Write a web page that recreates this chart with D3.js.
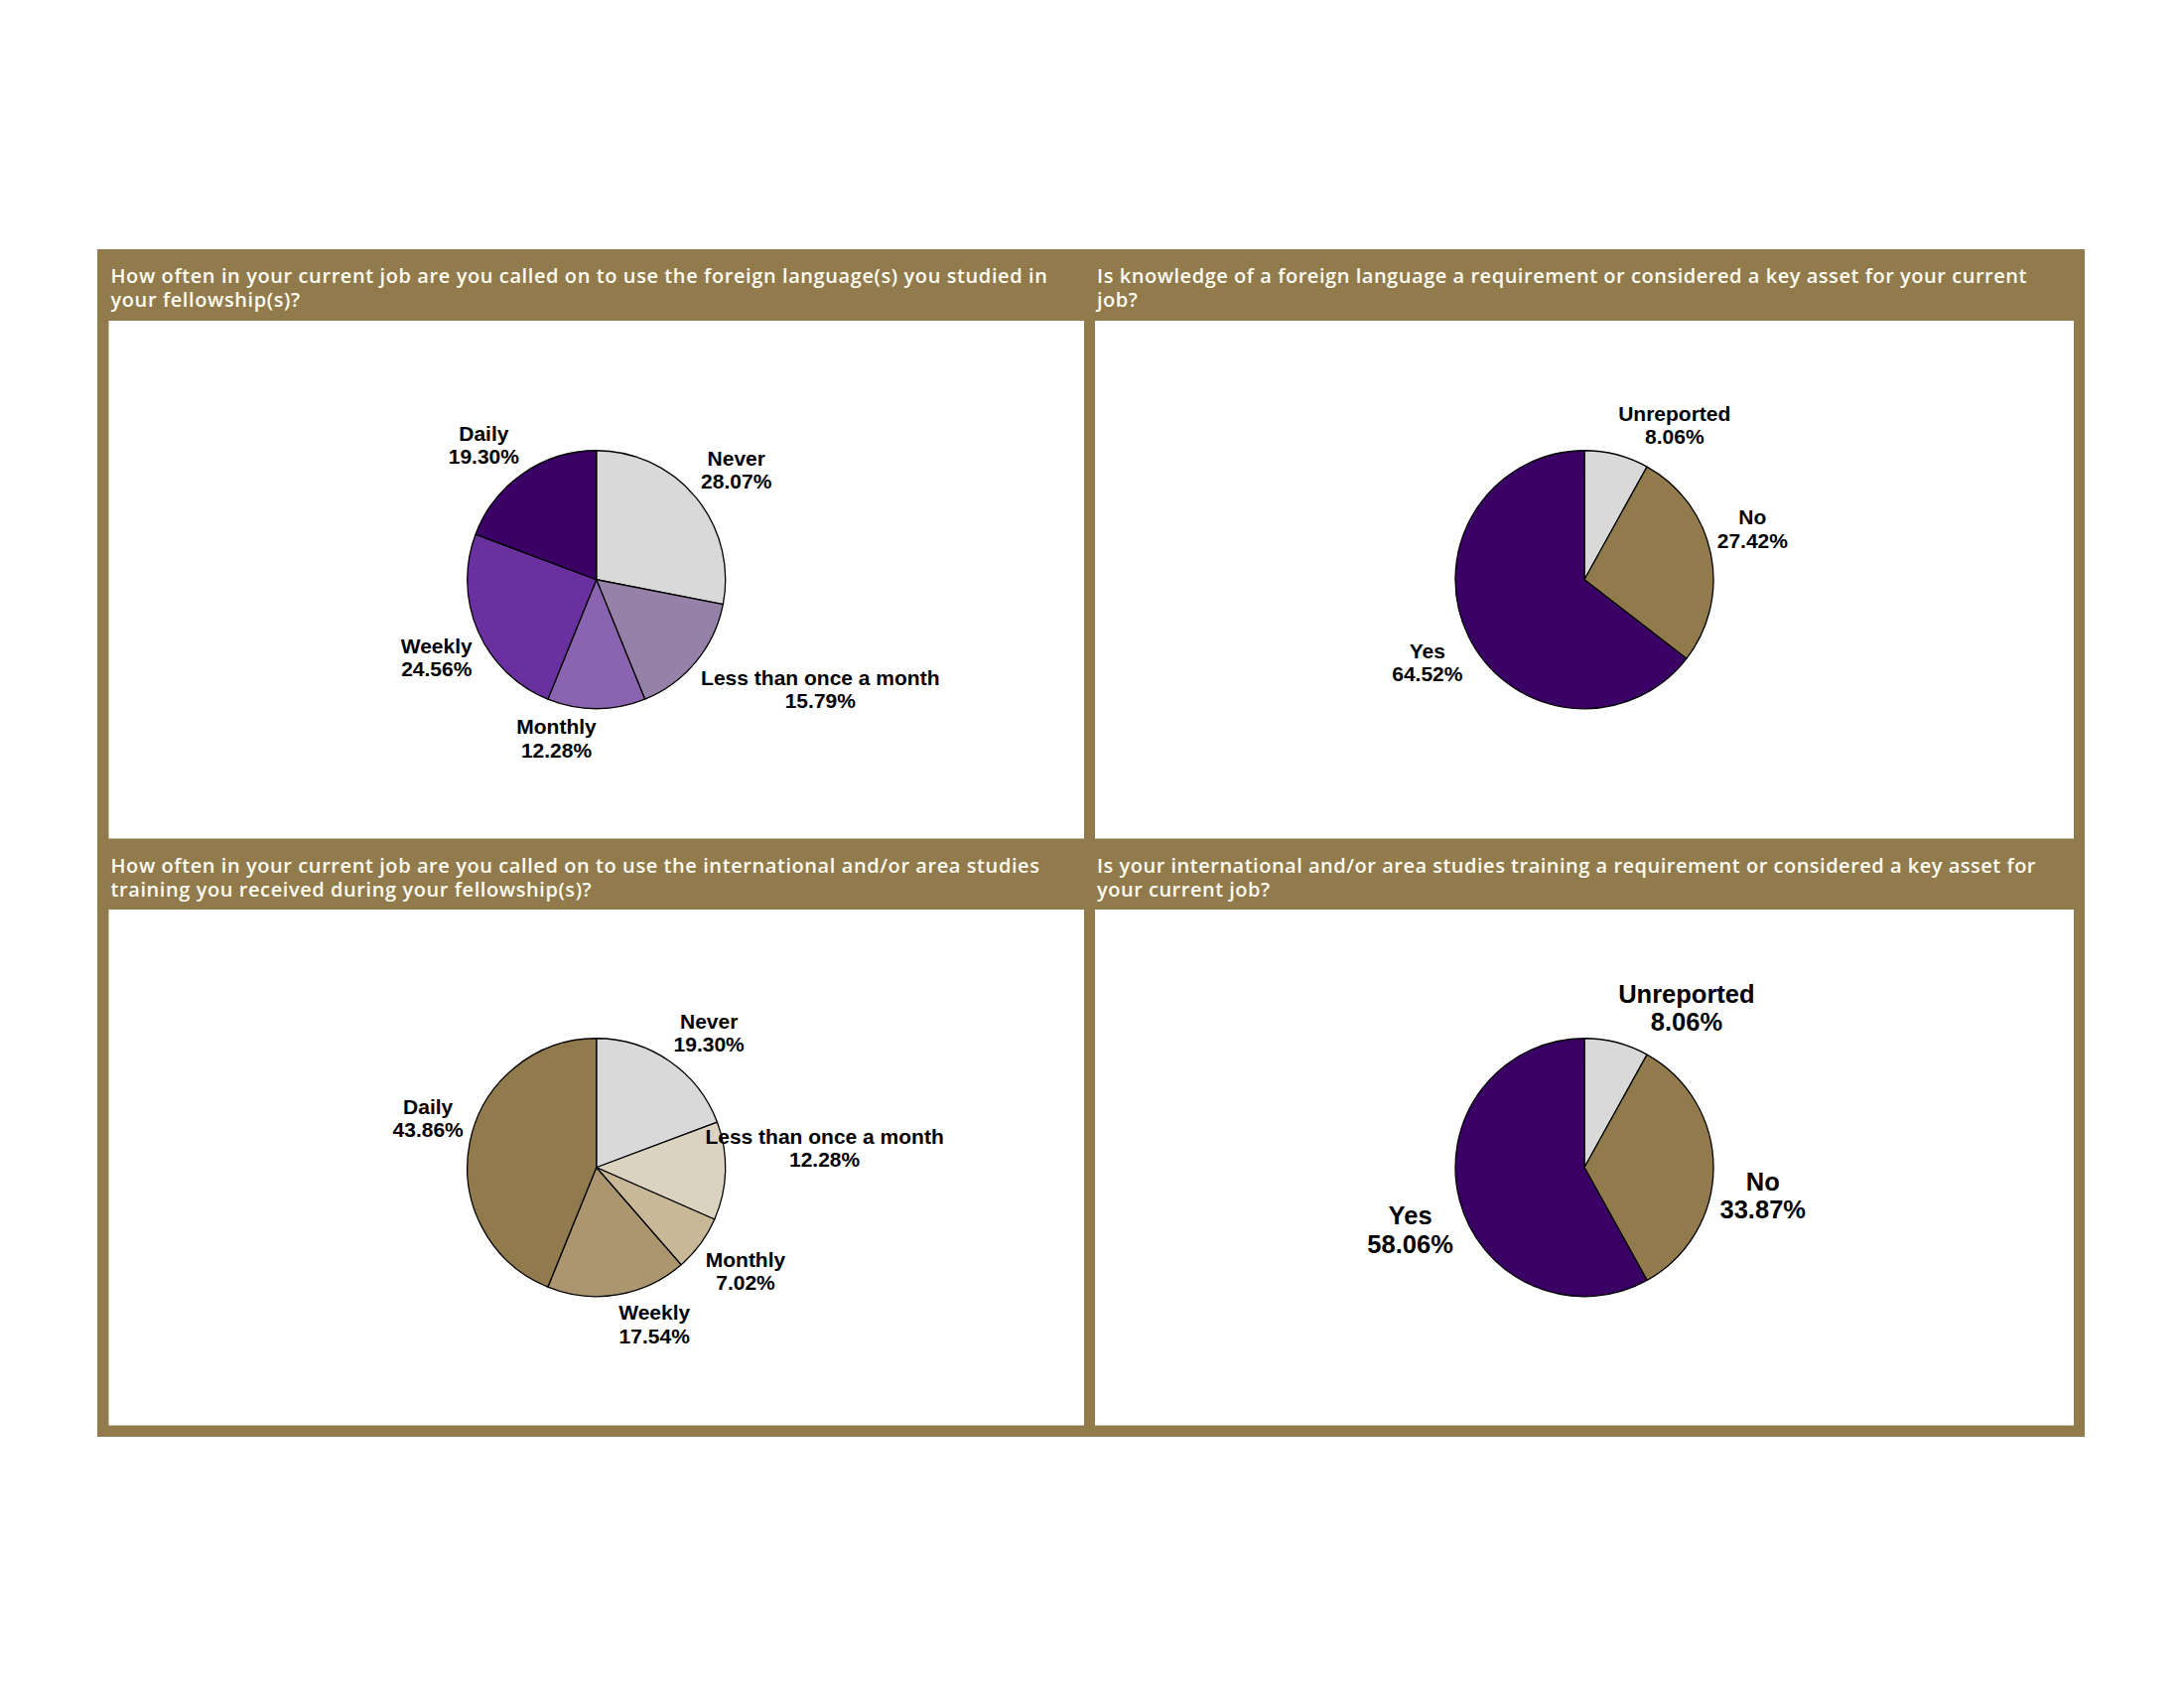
<!DOCTYPE html>
<html>
<head>
<meta charset="utf-8">
<script src="https://cdn.jsdelivr.net/npm/d3@7"></script>
<style>
  body { margin: 0; background: #fff; }
  svg { display: block; }
</style>
</head>
<body>
<div id="chart"></div>
<script>
// --------------- Data ---------------
const FREQ_LABELS = ["Never", "Less than once a month", "Monthly", "Weekly", "Daily"];
const KEY_LABELS = ["Unreported", "No", "Yes"];

const LANG_USE_VALUES = [28.07, 15.79, 12.28, 24.56, 19.30];
const LANG_KEY_VALUES = [8.06, 27.42, 64.52];
const AREA_USE_VALUES = [19.30, 12.28, 7.02, 17.54, 43.86];
const AREA_KEY_VALUES = [8.06, 33.87, 58.06];

const TITLES = [
  ["How often in your current job are you called on to use the foreign language(s) you studied in",
   "your fellowship(s)?"],
  ["Is knowledge of a foreign language a requirement or considered a key asset for your current",
   "job?"],
  ["How often in your current job are you called on to use the international and/or area studies",
   "training you received during your fellowship(s)?"],
  ["Is your international and/or area studies training a requirement or considered a key asset for",
   "your current job?"]
];

// --------------- Styles ---------------
const BROWN = "#917b4c";
const PURPLE_SHADES = ["#d9d9d9", "#9682a8", "#8a64b0", "#6b30a0", "#3a0066"];
const BROWN_SHADES = ["#d9d9d9", "#dbd2c0", "#c8b898", "#ab9670", "#917b4c"];
const KEY_COLORS = ["#d9d9d9", "#917b4c", "#3a0066"];

// --------------- Layout ---------------
const WIDTH = 2200;
const HEIGHT = 1700;
const FRAME = { left: 98, top: 251, right: 2100, bottom: 1447 };
const COLS = [{ x0: 109.5, x1: 1092 }, { x0: 1103, x1: 2089 }];
const ROWS = [
  { head: 251, y0: 323, y1: 844.5 },
  { head: 844.5, y0: 916, y1: 1435.5 }
];
const RADIUS = 130;
const LABEL_DIST = RADIUS * 1.05;
const LABEL_CLAMP = 350;
const TITLE_SIZE = 20;
const TITLE_WIDTH = [944, 937, 936, 946];

const svg = d3
  .select("#chart")
  .append("svg")
  .attr("width", WIDTH)
  .attr("height", HEIGHT);

svg.append("rect")
  .attr("x", FRAME.left)
  .attr("y", FRAME.top)
  .attr("width", FRAME.right - FRAME.left)
  .attr("height", FRAME.bottom - FRAME.top)
  .attr("fill", BROWN);

const panels = [];
ROWS.forEach((row, r) => {
  COLS.forEach((col, c) => {
    panels.push({ row, col, idx: r * 2 + c });
  });
});

panels.forEach(({ row, col, idx }) => {
  svg.append("rect")
    .attr("x", col.x0)
    .attr("y", row.y0)
    .attr("width", col.x1 - col.x0)
    .attr("height", row.y1 - row.y0)
    .attr("fill", "#fff");

  // Title in the brown header, letter spacing tuned so line one fills its width
  const title = svg.append("g").attr("class", "title");
  const lines = title.selectAll("text")
    .data(TITLES[idx])
    .join("text")
    .attr("x", col.x0 + 2)
    .attr("y", (d, i) => row.head + 34 + i * 24)
    .attr("fill", "#fffcf2")
    .attr("font-family", "'Open Sans', 'Noto Sans', sans-serif")
    .attr("font-weight", 600)
    .attr("font-size", TITLE_SIZE)
    .text((d) => d);
  const first = lines.node();
  const spacing = (TITLE_WIDTH[idx] - first.getComputedTextLength()) / TITLES[idx][0].length;
  lines.attr("letter-spacing", spacing);
});

function drawPie(cfg) {
  const { cx, cy, labels, values, colors, fontSize } = cfg;
  const data = labels.map((label, i) => ({ label, value: values[i], color: colors[i] }));
  const arcs = d3.pie().sort(null).value((d) => d.value)(data);
  const arc = d3.arc().innerRadius(0).outerRadius(RADIUS);

  const g = svg.append("g").attr("transform", `translate(${cx},${cy})`);

  g.selectAll("path")
    .data(arcs)
    .join("path")
    .attr("d", arc)
    .attr("fill", (d) => d.data.color)
    .attr("stroke", "#000")
    .attr("stroke-width", 1.3)
    .attr("stroke-linejoin", "round");

  const lh = fontSize * 1.12;
  g.selectAll("g.label")
    .data(arcs)
    .join("g")
    .attr("class", "label")
    .each(function (d) {
      const el = d3.select(this);
      const texts = el.selectAll("text")
        .data([d.data.label, d.data.value.toFixed(2) + "%"])
        .join("text")
        .attr("text-anchor", "middle")
        .attr("y", (t, i) => i * lh)
        .attr("font-family", "'Liberation Sans', Arial, sans-serif")
        .attr("font-weight", "bold")
        .attr("font-size", fontSize)
        .attr("fill", "#000")
        .text((t) => t);

      const w = d3.max(texts.nodes(), (n) => n.getComputedTextLength());
      const h = 2 * lh;
      const mid = (d.startAngle + d.endAngle) / 2;
      const s = Math.sin(mid);
      const c = Math.cos(mid);
      const px = LABEL_DIST * s;
      const py = -LABEL_DIST * c;
      // label box touches the anchor point with its corner nearest the pie
      const xs = s > 1e-6 ? 1 : -1;
      let ys;
      if (Math.abs(c) < 0.1) ys = c < 0 ? -1 : 1; // near horizontal: flipped, as in the source
      else ys = c > 0 ? -1 : 1;
      let bx = px + (xs * w) / 2;
      bx = Math.max(-LABEL_CLAMP + w / 2, Math.min(LABEL_CLAMP - w / 2, bx));
      const by = py + (ys * h) / 2;
      el.attr("transform", `translate(${bx},${by - h / 2 + 0.81 * lh})`);
    });
}

const centerOf = (i) => ({
  cx: (COLS[i % 2].x0 + COLS[i % 2].x1) / 2,
  cy: (ROWS[Math.floor(i / 2)].y0 + ROWS[Math.floor(i / 2)].y1) / 2
});

drawPie({ ...centerOf(0), labels: FREQ_LABELS, values: LANG_USE_VALUES, colors: PURPLE_SHADES, fontSize: 21 });
drawPie({ ...centerOf(1), labels: KEY_LABELS, values: LANG_KEY_VALUES, colors: KEY_COLORS, fontSize: 21 });
drawPie({ ...centerOf(2), labels: FREQ_LABELS, values: AREA_USE_VALUES, colors: BROWN_SHADES, fontSize: 21 });
drawPie({ ...centerOf(3), labels: KEY_LABELS, values: AREA_KEY_VALUES, colors: KEY_COLORS, fontSize: 25.5 });
</script>
</body>
</html>
